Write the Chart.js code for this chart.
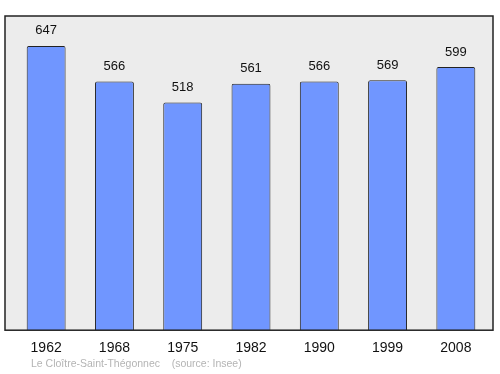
<!DOCTYPE html>
<html lang="fr">
<head>
    <meta charset="UTF-8">
    <title>Le Cloître-Saint-Thégonnec</title>
    <script src="https://cdn.jsdelivr.net/npm/chart.js"></script>
    <style>
        body { margin: 0; background: #fff; }
        .chart-container { width: 500px; height: 374px; }
    </style>
</head>
<body>
    <div class="chart-container">
        <canvas id="popChart"></canvas>
    </div>
    <script>
        // data
        const years = ['1962', '1968', '1975', '1982', '1990', '1999', '2008'];
        const population = [647, 566, 518, 561, 566, 569, 599];
        const sourceText = 'Le Cloître-Saint-Thégonnec    (source: Insee)';

        // grey framed panel behind the bars
        const framePlugin = {
            id: 'frame',
            beforeDatasetsDraw(chart) {
                const { ctx, chartArea: a } = chart;
                ctx.save();
                ctx.fillStyle = '#ececec';
                ctx.fillRect(a.left - 7, a.top, a.right - a.left + 10, a.bottom - a.top);
                ctx.restore();
            },
            afterDatasetsDraw(chart) {
                const { ctx, chartArea: a } = chart;
                ctx.save();
                ctx.strokeStyle = '#222';
                ctx.lineWidth = 1.5;
                ctx.strokeRect(a.left - 7, a.top, a.right - a.left + 10, a.bottom - a.top);

                // value labels above each bar
                ctx.fillStyle = '#111';
                ctx.font = '13px "Liberation Sans", Arial, sans-serif';
                ctx.textAlign = 'center';
                ctx.textBaseline = 'middle';
                chart.getDatasetMeta(0).data.forEach((bar, i) => {
                    ctx.fillText(population[i], bar.x, bar.y - 15);
                });

                ctx.fillStyle = '#b4b4b4';
                ctx.font = '10.5px "Liberation Sans", Arial, sans-serif';
                ctx.textAlign = 'left';
                ctx.fillText(sourceText, 31, chart.height - 10);
                ctx.restore();
            }
        };

        new Chart(document.getElementById('popChart'), {
            type: 'bar',
            data: {
                labels: years,
                datasets: [{
                    data: population,
                    backgroundColor: '#7096ff',
                    borderColor: '#222',
                    borderWidth: 1,
                    borderRadius: 2,
                    borderSkipped: 'bottom',
                    categoryPercentage: 1,
                    barPercentage: 0.57
                }]
            },
            options: {
                responsive: true,
                maintainAspectRatio: false,
                animation: false,
                layout: { padding: { left: 12, right: 10, top: 16, bottom: 7 } },
                plugins: {
                    legend: { display: false },
                    tooltip: { enabled: false }
                },
                scales: {
                    x: {
                        grid: { display: false, drawTicks: false },
                        border: { display: false },
                        ticks: {
                            color: '#111',
                            padding: 10,
                            font: { size: 14, family: '"Liberation Sans", Arial, sans-serif' }
                        }
                    },
                    y: {
                        display: false,
                        min: 0,
                        max: 715
                    }
                }
            },
            plugins: [framePlugin]
        });
    </script>
</body>
</html>
